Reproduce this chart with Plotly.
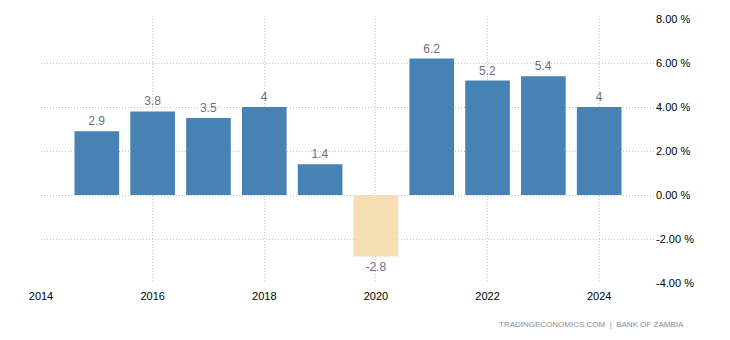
import plotly.graph_objects as go

years = [2015, 2016, 2017, 2018, 2019, 2020, 2021, 2022, 2023, 2024]
values = [2.9, 3.8, 3.5, 4, 1.4, -2.8, 6.2, 5.2, 5.4, 4]
labels = ["2.9", "3.8", "3.5", "4", "1.4", "-2.8", "6.2", "5.2", "5.4", "4"]
x_ticks = [2014, 2016, 2018, 2020, 2022, 2024]
y_ticks = [-4, -2, 0, 2, 4, 6, 8]
y_tick_labels = ["-4.00 %", "-2.00 %", "0.00 %", "2.00 %", "4.00 %", "6.00 %", "8.00 %"]

colors = ["#4682b4" if v >= 0 else "#f5deb3" for v in values]

fig = go.Figure()
fig.add_trace(go.Bar(
    x=years, y=values, width=0.8,
    marker=dict(color=colors, line=dict(width=0)),
    text=labels, textposition="outside",
    textfont=dict(family="Liberation Sans, Arial, sans-serif", size=12, color="#6e6e82"),
    cliponaxis=False,
    hoverinfo="skip",
))

fig.update_layout(
    width=730, height=340,
    margin=dict(l=41, r=75, t=19, b=57),
    paper_bgcolor="white", plot_bgcolor="white",
    showlegend=False,
    bargap=0.2,
    font=dict(family="Liberation Sans, Arial, sans-serif", size=11, color="#000"),
    xaxis=dict(
        range=[2014, 2025], tickvals=x_ticks, ticktext=[str(t) for t in x_ticks],
        showgrid=True, gridcolor="#c4c4c4", griddash="1px,2px", gridwidth=1,
        zeroline=False, showline=False, ticks="", fixedrange=True,
        ticklabelstandoff=5,
        tickfont=dict(size=11, color="#000"),
    ),
    yaxis=dict(
        side="right", range=[-4, 8], tickvals=y_ticks, ticktext=y_tick_labels,
        showgrid=True, gridcolor="#c4c4c4", griddash="1px,2px", gridwidth=1,
        zeroline=False, showline=False, ticks="", fixedrange=True,
        tickfont=dict(size=11, color="#000"),
    ),
    annotations=[dict(
        text="TRADINGECONOMICS.COM  |  BANK OF ZAMBIA",
        xref="paper", yref="paper", x=1.05, y=-0.159,
        xanchor="right", yanchor="middle", showarrow=False,
        font=dict(family="Liberation Sans, Arial, sans-serif", size=8, color="#8a8a9a"),
    )],
)

fig.write_html("out.html")
